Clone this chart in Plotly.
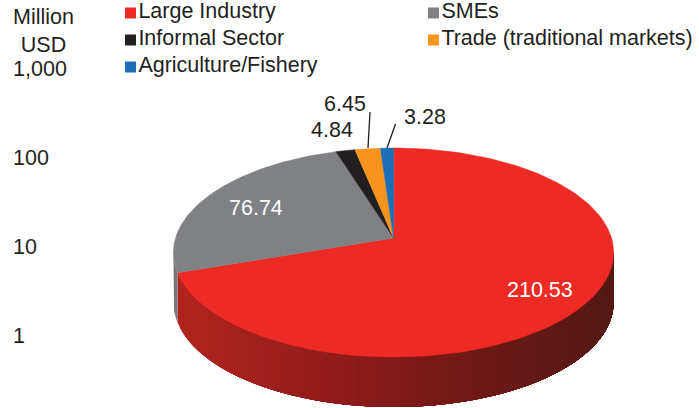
import numpy as np
import plotly.graph_objects as go

categories = ["Large Industry", "SMEs", "Informal Sector", "Trade (traditional markets)", "Agriculture/Fishery"]
values = [210.53, 76.74, 4.84, 6.45, 3.28]
value_labels = ["210.53", "76.74", "4.84", "6.45", "3.28"]
colors = ["#ee2a24", "#808184", "#231f20", "#f7941e", "#1c6fb7"]
tick_values = [1, 10, 100, 1000]
tick_labels = ["1", "10", "100", "1,000"]

FONT = "Liberation Sans, Arial, sans-serif"
FS = 21.5
INK = "#231f20"
CX, CY, C, B, A, DEPTH = 393.5, 238.0, 218.0, 102.5, 0.139, 50.0


def rim(theta_deg, drop=0.0):
    t = np.radians(theta_deg)
    u, v = np.sin(t), np.cos(t)
    w = 1 + A * v
    return CX + C * u / w, CY - B * v / w + drop


def mix(stops, x):
    xs = [s[0] for s in stops]
    return "rgb(%d,%d,%d)" % tuple(np.interp(x, xs, [s[1][i] for s in stops]) for i in range(3))


RED_SIDE = [(178, (178, 36, 32)), (390, (130, 25, 25)), (470, (110, 25, 22)), (612, (84, 25, 20))]

fig = go.Figure()

# invisible trace that carries the log axis
fig.add_trace(go.Scatter(x=[None], y=[None], yaxis="y", showlegend=False, hoverinfo="skip"))

total = sum(values)
edges = np.concatenate([[0], np.cumsum(values)]) / total * 360

# side wall: front red part painted in overlapping bands, so no seams show
widest = np.degrees(np.arccos(-A))
seg = np.linspace(edges[1], widest, 60)
for a0 in seg[:-1]:
    arc = np.linspace(a0, widest, 60)
    x0, y0 = rim(arc)
    x1, y1 = rim(arc[::-1], DEPTH)
    col = mix(RED_SIDE, float(rim(a0)[0]))
    fig.add_trace(go.Scatter(x=np.r_[x0, x1], y=np.r_[y0, y1], yaxis="y2", mode="lines",
                             fill="toself", fillcolor=col, line=dict(width=0),
                             showlegend=False, hoverinfo="skip"))
arc = np.linspace(edges[1], 360 - widest, 20)
x0, y0 = rim(arc)
x1, y1 = rim(arc[::-1], DEPTH)
fig.add_trace(go.Scatter(x=np.r_[x0, x1], y=np.r_[y0, y1], yaxis="y2", mode="lines",
                         fill="toself", fillcolor="#76777a", line=dict(width=0),
                         showlegend=False, hoverinfo="skip"))

# top surface
for i, name in enumerate(categories):
    arc = np.linspace(edges[i], edges[i + 1], 160)
    x, y = rim(arc)
    fig.add_trace(go.Scatter(x=np.r_[CX, x, CX], y=np.r_[CY, y, CY], yaxis="y2", mode="lines",
                             fill="toself", fillcolor=colors[i], line=dict(color=colors[i], width=0.5),
                             name=name, showlegend=False, hovertemplate=f"{name}: {values[i]}<extra></extra>"))

# legend
leg_pos = [(130.5, 13), (433.5, 13), (130.5, 40), (433.5, 40), (130.5, 67)]
for (lx, ly), name, col in zip(leg_pos, categories, colors):
    fig.add_trace(go.Scatter(x=[lx], y=[ly], yaxis="y2", mode="markers+text", text=[name],
                             textposition="middle right",
                             textfont=dict(family=FONT, size=FS, color=INK),
                             marker=dict(symbol="square", size=11, color=col),
                             showlegend=False, hoverinfo="skip"))

# leader lines
for xs, ys in [([370, 368], [112, 148]), ([395.5, 387], [124, 148])]:
    fig.add_trace(go.Scatter(x=xs, y=ys, yaxis="y2", mode="lines",
                             line=dict(color=INK, width=1.3), showlegend=False, hoverinfo="skip"))

label_pos = [(540, 290, "white"), (256, 208, "white"), (332, 130, INK), (345, 104, INK), (425, 117, INK)]
annotations = [dict(x=x, y=y, xref="x", yref="y2", text=t, showarrow=False,
                    font=dict(family=FONT, size=FS, color=c))
               for (x, y, c), t in zip(label_pos, value_labels)]
annotations.append(dict(x=43.5, y=31, xref="x", yref="y2", text="Million<br>USD", showarrow=False,
                        align="center", font=dict(family=FONT, size=FS, color=INK)))

fig.update_layout(
    width=699, height=408, margin=dict(l=0, r=0, t=0, b=0),
    paper_bgcolor="white", plot_bgcolor="white", showlegend=False,
    xaxis=dict(range=[0, 699], visible=False, fixedrange=True),
    yaxis=dict(type="log", range=[-0.809, 3.764], tickvals=tick_values, ticktext=tick_labels,
               ticklabelposition="inside", ticks="", showgrid=False, zeroline=False, showline=False,
               anchor="free", position=0.013, side="left",
               tickfont=dict(family=FONT, size=FS, color=INK), fixedrange=True),
    yaxis2=dict(range=[408, 0], overlaying="y", visible=False, fixedrange=True),
    annotations=annotations,
)
fig.write_html("out.html", config=dict(displayModeBar=False),
               post_script="document.body.style.margin='0';document.body.style.overflow='hidden';")
